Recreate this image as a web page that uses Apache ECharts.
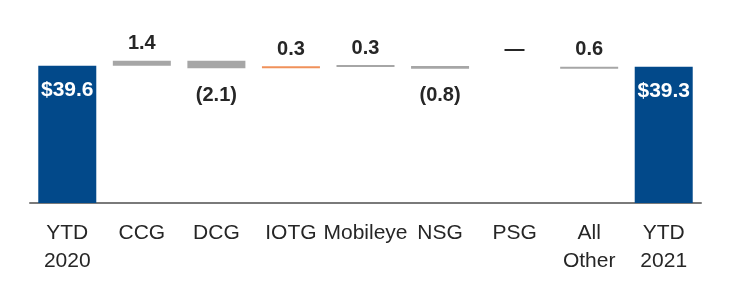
<!DOCTYPE html>
<html><head><meta charset="utf-8">
<script src="https://cdn.jsdelivr.net/npm/echarts@6/dist/echarts.min.js"></script>
<style>html,body{margin:0;padding:0;background:#fff}#c{width:730px;height:300px}</style>
</head><body><div id="c"></div>
<script>
// ---- data ----
const categories = ['YTD\n2020', 'CCG', 'DCG', 'IOTG', 'Mobileye', 'NSG', 'PSG', 'All\nOther', 'YTD\n2021'];
const startTotal = 39.6;
const deltas = [1.4, -2.1, 0.3, 0.3, -0.8, 0, 0.6];
const endTotal = 39.3;

// ---- build waterfall ----
const BLUE = '#02498A', GRAY = '#A6A6A6', ORANGE = '#F0915A', TXT = '#262626';
const baseData = [];
const valData = [];
function r1(v){ return Math.round(v * 10) / 10; }
baseData.push(0);
valData.push({ value: startTotal, itemStyle: { color: BLUE },
  label: { show: true, position: 'insideTop', distance: 14, color: '#fff', fontSize: 21, fontWeight: 'bold',
    formatter: '$' + startTotal.toFixed(1) } });
let run = startTotal;
deltas.forEach((d, i) => {
  const before = run, after = r1(run + d);
  baseData.push(Math.min(before, after));
  const cat = categories[i + 1];
  const color = cat === 'IOTG' ? ORANGE : GRAY;
  let label;
  if (d > 0) label = { show: true, position: 'top', distance: 7, formatter: d.toFixed(1) };
  else if (d < 0) label = { show: true, position: 'bottom', distance: 17, formatter: '(' + Math.abs(d).toFixed(1) + ')' };
  else label = { show: true, position: 'top', distance: 7, formatter: '\u2014' };
  valData.push({ value: Math.abs(d), itemStyle: { color: d === 0 ? 'rgba(0,0,0,0)' : color }, label: label });
  run = after;
});
baseData.push(0);
valData.push({ value: endTotal, itemStyle: { color: BLUE },
  label: { show: true, position: 'insideTop', distance: 14, color: '#fff', fontSize: 21, fontWeight: 'bold',
    formatter: '$' + endTotal.toFixed(1) } });

const chart = echarts.init(document.getElementById('c'), null, { renderer: 'canvas' });
chart.setOption({
  animation: false,
  textStyle: { fontFamily: 'Liberation Sans, Arial, sans-serif' },
  grid: { left: 30, right: 29, top: 47, bottom: 97, containLabel: false },
  xAxis: {
    type: 'category',
    data: categories,
    axisLine: { lineStyle: { color: '#7A7A7A', width: 2 } },
    axisTick: { show: false },
    axisLabel: { interval: 0, color: TXT, fontSize: 21, lineHeight: 28, margin: 16,
      fontFamily: 'Liberation Sans, Arial, sans-serif' }
  },
  yAxis: { type: 'value', min: 0, max: 45, show: false, splitLine: { show: false } },
  series: [
    { type: 'bar', stack: 'w', barWidth: 58, data: baseData,
      itemStyle: { color: 'rgba(0,0,0,0)' }, silent: true },
    { type: 'bar', stack: 'w', barWidth: 58, barMinHeight: 2, data: valData,
      label: { color: TXT, fontSize: 20, fontWeight: 'bold', fontFamily: 'Liberation Sans, Arial, sans-serif' } }
  ]
});
</script></body></html>
